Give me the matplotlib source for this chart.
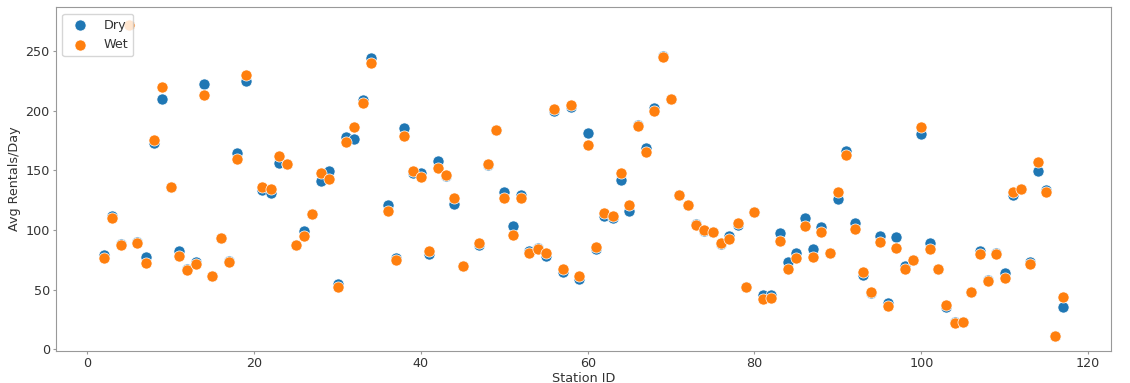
import matplotlib
matplotlib.use("Agg")
import matplotlib.pyplot as plt

# station ids (1, 20, 35, 46 have no data)
station_ids = [2, 3, 4, 5, 6, 7, 8, 9, 10, 11, 12, 13, 14, 15, 16, 17, 18, 19,
               21, 22, 23, 24, 25, 26, 27, 28, 29, 30, 31, 32, 33, 34,
               36, 37, 38, 39, 40, 41, 42, 43, 44, 45,
               47, 48, 49, 50, 51, 52, 53, 54, 55, 56, 57, 58, 59, 60,
               61, 62, 63, 64, 65, 66, 67, 68, 69, 70, 71, 72, 73, 74, 75,
               76, 77, 78, 79, 80, 81, 82, 83, 84, 85, 86, 87, 88, 89, 90,
               91, 92, 93, 94, 95, 96, 97, 98, 99, 100, 101, 102, 103, 104,
               105, 106, 107, 108, 109, 110, 111, 112, 113, 114, 115, 116, 117]

# average rentals per day on dry days
dry = [79, 112, 88, 272, 90, 77, 173, 210, 136, 82, 67, 73, 222, 61, 93, 74, 164, 225,
       133, 131, 156, 155, 87, 99, 113, 141, 149, 55, 178, 176, 209, 244,
       121, 76, 185, 148, 148, 80, 158, 145, 122, 70,
       87, 154, 184, 132, 103, 129, 82, 85, 78, 200, 65, 203, 59, 181,
       84, 112, 110, 142, 116, 188, 169, 202, 246, 210, 129, 121, 105, 99, 98,
       88, 95, 104, 52, 115, 45, 45, 97, 73, 81, 110, 84, 102, 81, 126,
       166, 106, 62, 47, 95, 39, 94, 70, 75, 180, 89, 67, 35, 23,
       23, 48, 82, 58, 81, 64, 129, 134, 73, 149, 133, 11, 35]

# average rentals per day on wet days
wet = [76, 110, 87, 272, 89, 72, 175, 220, 136, 78, 66, 71, 213, 61, 93, 73, 159, 230,
       136, 134, 162, 155, 87, 95, 113, 148, 143, 52, 174, 186, 206, 240,
       116, 75, 179, 149, 144, 82, 152, 146, 127, 70,
       89, 155, 184, 127, 96, 127, 81, 84, 81, 201, 67, 205, 61, 171,
       86, 114, 112, 148, 121, 187, 165, 200, 245, 210, 129, 121, 104, 100, 98,
       89, 92, 106, 52, 115, 42, 43, 91, 67, 76, 103, 77, 98, 81, 132,
       163, 101, 65, 48, 90, 36, 85, 67, 75, 186, 84, 67, 37, 22,
       23, 48, 80, 57, 80, 60, 132, 134, 71, 157, 132, 11, 44]

fig = plt.figure(figsize=(11.3, 3.83), dpi=100)
ax = fig.add_axes([0.0496, 0.0836, 0.9336, 0.8974])

ax.scatter(station_ids, dry, s=64, color="#1f77b4", edgecolors="white", linewidths=0.5, label="Dry")
ax.scatter(station_ids, wet, s=64, color="#ff7f0e", edgecolors="white", linewidths=0.5, label="Wet")

ax.set_xlim(-3.75, 122.75)
ax.set_ylim(-1.5, 286.5)
ax.set_xticks([0, 20, 40, 60, 80, 100, 120])
ax.set_yticks([0, 50, 100, 150, 200, 250])

fs = 9.2
ax.set_xlabel("Station ID", fontsize=fs, color="#333333", labelpad=1)
ax.set_ylabel("Avg Rentals/Day", fontsize=fs, color="#333333", labelpad=3)
ax.tick_params(labelsize=fs, colors="#333333", length=2.5, pad=2, color="#999999")
for sp in ax.spines.values():
    sp.set_color("#999999")

leg = ax.legend(loc="upper left", fontsize=fs, framealpha=0.8, borderaxespad=0.5)
for t in leg.get_texts():
    t.set_color("#333333")

fig.savefig("out.png", dpi=100)
